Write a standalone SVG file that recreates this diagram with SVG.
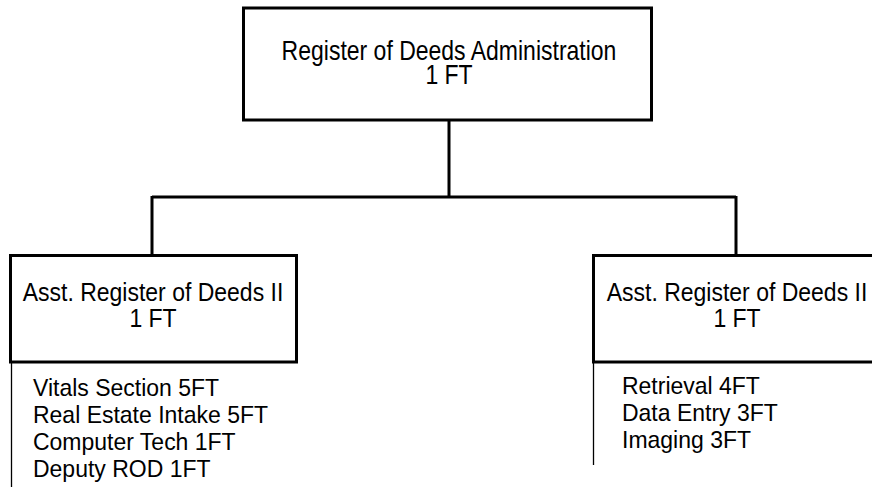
<svg xmlns="http://www.w3.org/2000/svg" width="872" height="487" viewBox="0 0 872 487">
<style>
.box{fill:#fff;stroke:#000;stroke-width:3}
.conn{fill:none;stroke:#000;stroke-width:3}
.thin{fill:none;stroke:#000;stroke-width:1.3}
text{font-family:"Liberation Sans",Arial,sans-serif;font-size:23px;fill:#000}
.c{text-anchor:middle}
</style>
<rect width="872" height="487" fill="#fff"/>
<g id="connectors">
<path class="conn" d="M449 120 V197 M152 197 H736 M152 196 V255 M736 196 V255"/>
</g>
<g id="admin">
<rect class="box" x="243.5" y="8" width="408" height="112"/>
<text class="c" transform="translate(449,60) scale(1,1.2)">Register of Deeds Administration</text>
<text class="c" transform="translate(449,83.5) scale(1,1.2)">1 FT</text>
</g>
<g id="asst-left">
<rect class="box" x="10.5" y="255.5" width="286" height="106.5"/>
<text class="c" transform="translate(153,301) scale(1,1.1)">Asst. Register of Deeds II</text>
<text class="c" transform="translate(153,327) scale(1,1.1)">1 FT</text>
<path class="thin" d="M11.5 362 V487"/>
<text transform="translate(33,396) scale(1,1.07)">Vitals Section 5FT</text>
<text transform="translate(33,422.5) scale(1,1.07)">Real Estate Intake 5FT</text>
<text transform="translate(33,449.5) scale(1,1.07)">Computer Tech 1FT</text>
<text transform="translate(33,476.5) scale(1,1.07)">Deputy ROD 1FT</text>
</g>
<g id="asst-right">
<rect class="box" x="593.5" y="255.5" width="290" height="106.5"/>
<text class="c" transform="translate(737,301) scale(1,1.1)">Asst. Register of Deeds II</text>
<text class="c" transform="translate(737,327) scale(1,1.1)">1 FT</text>
<path class="thin" d="M593.5 362 V465"/>
<text transform="translate(622,394) scale(1,1.07)">Retrieval 4FT</text>
<text transform="translate(622,421) scale(1,1.07)">Data Entry 3FT</text>
<text transform="translate(622,447.5) scale(1,1.07)">Imaging 3FT</text>
</g>
</svg>
